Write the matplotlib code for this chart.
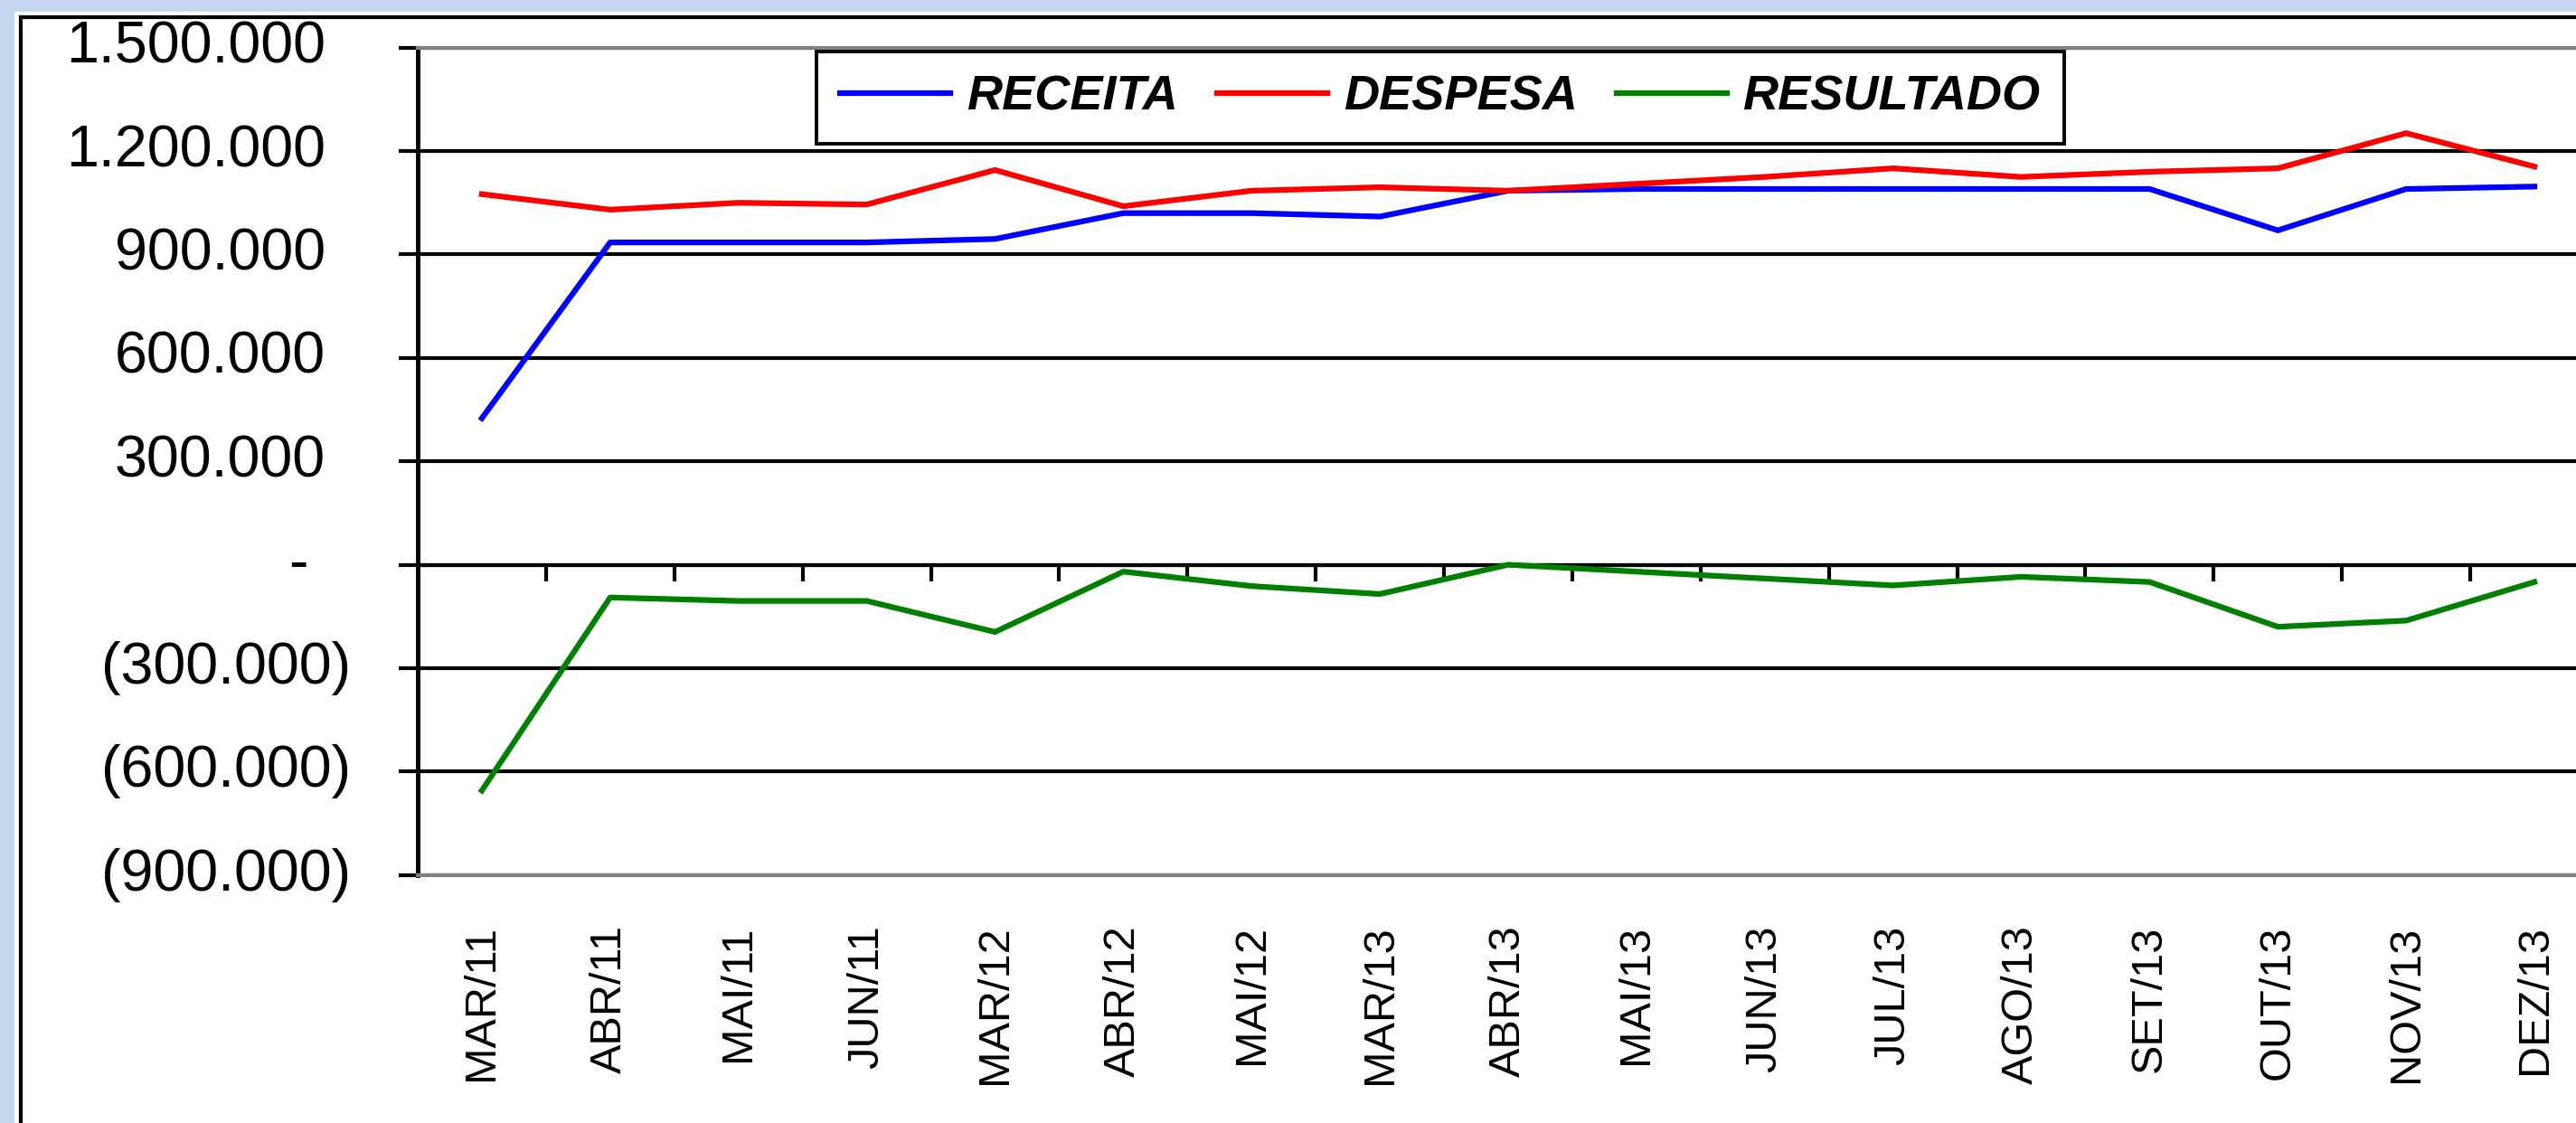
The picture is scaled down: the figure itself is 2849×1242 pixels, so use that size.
import matplotlib
matplotlib.use('Agg')
import matplotlib.pyplot as plt
import matplotlib.transforms as mtransforms
from matplotlib import font_manager
from matplotlib.patches import Rectangle

# data
meses = ['MAR/11', 'ABR/11', 'MAI/11', 'JUN/11', 'MAR/12', 'ABR/12', 'MAI/12',
         'MAR/13', 'ABR/13', 'MAI/13', 'JUN/13', 'JUL/13', 'AGO/13', 'SET/13',
         'OUT/13', 'NOV/13', 'DEZ/13']
receita = [425000, 935000, 935000, 935000, 945000, 1020000, 1020000, 1010000,
           1085000, 1090000, 1090000, 1090000, 1090000, 1090000, 970000,
           1090000, 1097000]
despesa = [1075000, 1030000, 1050000, 1045000, 1145000, 1040000, 1085000,
           1095000, 1085000, 1105000, 1125000, 1150000, 1125000, 1140000,
           1150000, 1252000, 1155000]
resultado = [-655000, -95000, -105000, -105000, -195000, -20000, -62000,
             -85000, 0, -20000, -40000, -60000, -35000, -50000, -180000,
             -162000, -50000]

y_ticks = [-900000, -600000, -300000, 0, 300000, 600000, 900000, 1200000, 1500000]
y_labels = ['(900.000)', '(600.000)', '(300.000)', '-', '300.000', '600.000',
            '900.000', '1.200.000', '1.500.000']

W, H = 2849, 1242
names = {f.name for f in font_manager.fontManager.ttflist}
xfont = 'Liberation Sans Narrow' if 'Liberation Sans Narrow' in names else 'Liberation Sans'
xsize = 41 if xfont == 'Liberation Sans Narrow' else 35

fig = plt.figure(figsize=(W / 100, H / 100), dpi=100, facecolor='#C4D6ED')

# white panel with black border (cropped on the right and bottom)
fig.patches.append(Rectangle((16 / W, -0.1), 1.0, 1.1 - 13 / H, transform=fig.transFigure,
                             facecolor='white', edgecolor='none', zorder=-3))
fig.patches.append(Rectangle((23 / W, -0.1), 1.0, 1.1 - 19 / H, transform=fig.transFigure,
                             fill=False, edgecolor='black', linewidth=3, zorder=-2))

ax = fig.add_axes([462 / W, 1 - 967.7 / H, 2412 / W, 915 / H])
ax.set_facecolor('none')

x = list(range(len(meses)))
ax.plot(x, receita, color='#0000FF', lw=4.5, label='RECEITA', zorder=3)
ax.plot(x, despesa, color='#FF0000', lw=4.5, label='DESPESA', zorder=3)
ax.plot(x, resultado, color='#008000', lw=4.5, label='RESULTADO', zorder=3)

ax.set_xlim(-0.5, len(meses) - 0.5)
ax.set_ylim(y_ticks[0], y_ticks[-1])

# y axis
ax.set_yticks(y_ticks)
ax.yaxis.grid(True, color='black', lw=3.0)
ax.set_axisbelow(True)
ax.tick_params(axis='y', length=15, width=3.0, color='black', labelleft=False)

blend = mtransforms.blended_transform_factory(fig.transFigure, ax.transData)
for v, lab in zip(y_ticks, y_labels):
    if v > 0:
        xr = 360
    elif v < 0:
        xr = 388
    else:
        xr = 341
    ax.text(xr / W, v, lab, transform=blend, ha='right', va='center',
            fontsize=46.5, family='Liberation Sans', color='black')

# x axis labels at the bottom
ax.set_xticks(x)
ax.set_xticklabels(meses, rotation=90, fontsize=xsize, family=xfont)
ax.tick_params(axis='x', length=0, pad=40)

# category axis at zero with tick marks between categories
zero_frac = (0 - y_ticks[0]) / (y_ticks[-1] - y_ticks[0])
sec = ax.secondary_xaxis(zero_frac)
sec.set_xticks([i + 0.5 for i in range(len(meses) - 1)])
sec.set_xticklabels([])
sec.tick_params(axis='x', length=13, width=3.0, direction='out', color='black')
for s in sec.spines.values():
    s.set_color('black')
    s.set_linewidth(3.0)

for side in ['top', 'bottom']:
    ax.spines[side].set_color('#808080')
    ax.spines[side].set_linewidth(3.0)
ax.spines['left'].set_color('black')
ax.spines['left'].set_linewidth(3.5)
ax.spines['right'].set_visible(False)

leg = ax.legend(loc='upper left', bbox_to_anchor=(903 / W, 1 - 57 / H),
                bbox_transform=fig.transFigure, ncol=3, fancybox=False,
                borderaxespad=0, borderpad=0.48, handlelength=2.25,
                handletextpad=0.33, columnspacing=0.8,
                prop=dict(family='Liberation Sans', weight='bold', style='italic', size=39))
leg.get_frame().set_edgecolor('black')
leg.get_frame().set_linewidth(2.8)
leg.get_frame().set_alpha(None)

fig.savefig('out.png', dpi=100, facecolor=fig.get_facecolor())
